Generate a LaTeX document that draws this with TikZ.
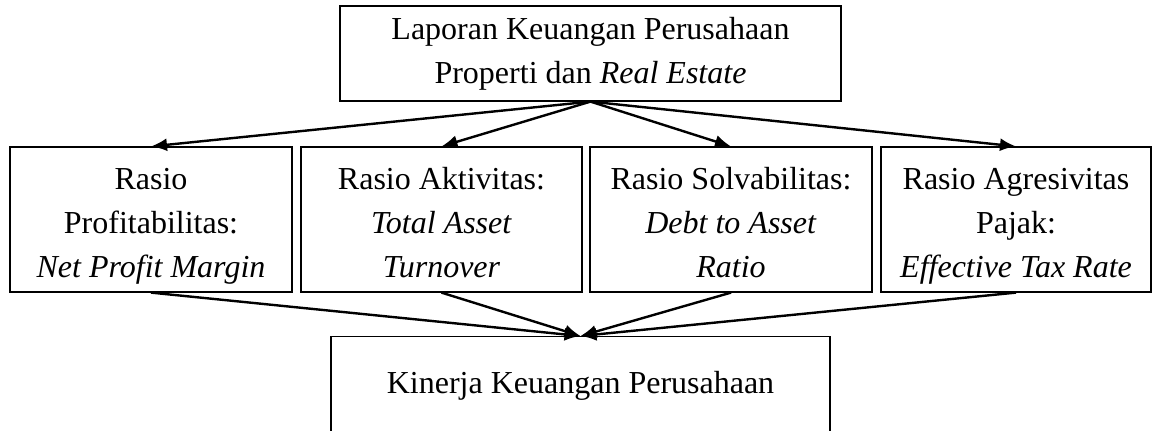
\documentclass[tikz,border=0pt]{standalone}
\usepackage{fontspec}
\setmainfont{Liberation Serif}
\usetikzlibrary{arrows.meta}
\begin{document}
\begin{tikzpicture}[
    x=0.5pt, y=-0.5pt,
    box/.style={draw, rectangle, line width=0.6pt, align=center, inner sep=0pt, minimum width=141pt, minimum height=72.5pt, font=\fontsize{16}{22}\selectfont},
    ratio/.style={box, text height=65pt, text depth=7.5pt},
    arrow/.style={-{Latex[length=8pt,width=6.5pt]}, line width=1.2pt}
]
\useasboundingbox (0,0) rectangle (1156,430);

% Source
\node[box, minimum width=250.5pt, minimum height=47.5pt] (laporan) at (590.5,53.5) {Laporan Keuangan Perusahaan\\Properti dan \textit{Real Estate}};

% Ratios
\node[ratio] (profit) at (151,219.5) {Rasio\\Profitabilitas:\\\textit{Net Profit Margin}};
\node[ratio, minimum width=140.5pt] (aktiv) at (441.5,219.5) {Rasio Aktivitas:\\\textit{Total Asset}\\\textit{Turnover}};
\node[ratio] (solva) at (731,219.5) {Rasio Solvabilitas:\\\textit{Debt to Asset}\\\textit{Ratio}};
\node[ratio, minimum width=135pt] (pajak) at (1016,219.5) {Rasio Agresivitas\\Pajak:\\\textit{Effective Tax Rate}};

% Result
\node[box, minimum width=249.5pt, anchor=north, text height=19.5pt, text depth=35pt] (kinerja) at (580.5,336) {Kinerja Keuangan Perusahaan};

% Arrows
\draw[arrow] (laporan.south) -- (profit.north);
\draw[arrow] (laporan.south) -- (aktiv.north);
\draw[arrow] (laporan.south) -- (solva.north);
\draw[arrow] (laporan.south) -- (pajak.north);
\draw[arrow] (profit.south) -- (kinerja.north);
\draw[arrow] (aktiv.south) -- (kinerja.north);
\draw[arrow] (solva.south) -- (kinerja.north);
\draw[arrow] (pajak.south) -- (kinerja.north);

\end{tikzpicture}
\end{document}
